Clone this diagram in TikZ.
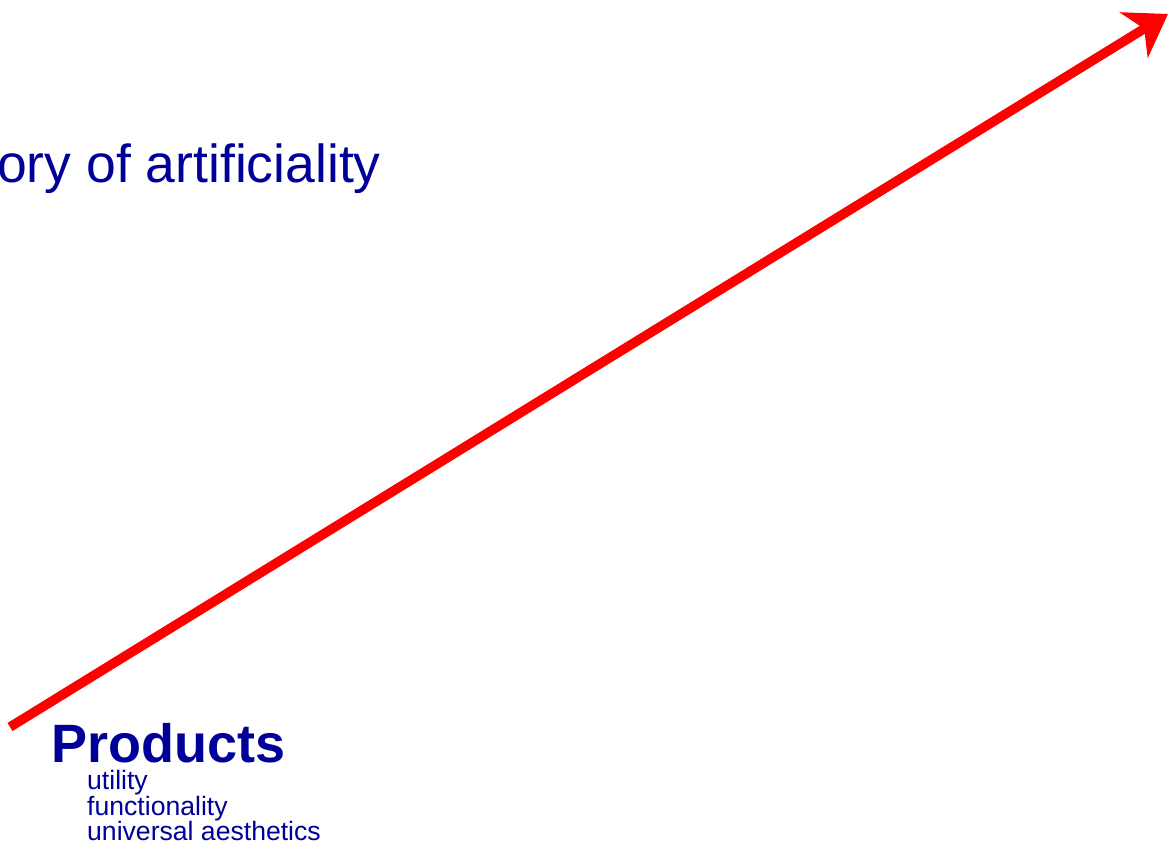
\documentclass[tikz,border=0pt]{standalone}
\usepackage{fontspec}
\setmainfont{Liberation Sans}
\usetikzlibrary{arrows.meta}

\definecolor{darkblue}{RGB}{0,0,153}
\definecolor{arrowred}{RGB}{255,0,0}

\tikzset{
	label text/.style = {inner sep = 0, anchor = base west, text = darkblue},
	feature/.style = {label text, font = \fontsize{26.6}{26}\selectfont}
}

\begin{document}
\begin{tikzpicture}[x = 1pt, y = -1pt]
	\useasboundingbox (0, 0) rectangle (1169, 847);
	
	\node[label text, font = \fontsize{53.5}{60}\selectfont] (title) at (-3, 182) {ory of artificiality};
	
	\node[label text, font = \fontsize{54}{58}\selectfont\bfseries] (products) at (51, 762) {Products};
	\node[feature] (utility) at (87, 789) {utility};
	\node[feature] (function) at (87, 815) {functionality};
	\node[feature] (aesthetics) at (87, 840) {universal aesthetics};
	
	\coordinate (start) at (10, 727);
	\coordinate (tip) at (1168, 14);
	\draw[arrowred, line width = 9.5pt, -{Stealth[length = 40pt, width = 53pt, inset = 12pt]}] (start) -- (tip);
\end{tikzpicture}
\end{document}
